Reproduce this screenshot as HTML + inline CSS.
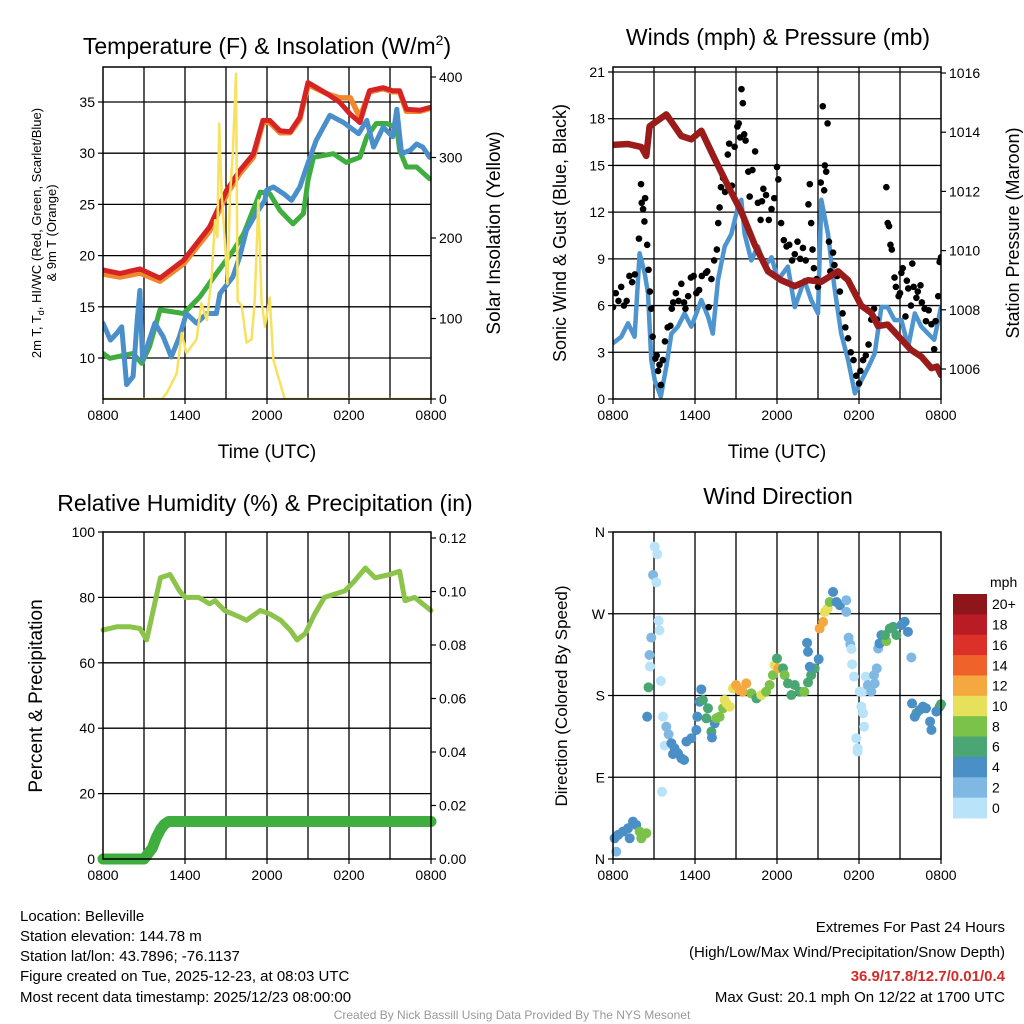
<!DOCTYPE html>
<html><head><meta charset="utf-8">
<style>
html,body{margin:0;padding:0;background:#fff;}
svg{display:block;font-family:"Liberation Sans",sans-serif;}
</style></head>
<body>
<svg id="c" width="1024" height="1024" viewBox="0 0 1024 1024" xmlns="http://www.w3.org/2000/svg">
<rect x="0" y="0" width="1024" height="1024" fill="#fff"/>
<g id="layer"></g>
<text x="267" y="54" font-size="23" text-anchor="middle">Temperature (F) &amp; Insolation (W/m<tspan font-size="14" dy="-9">2</tspan><tspan dy="9">)</tspan></text>
<text x="778" y="45" font-size="23" text-anchor="middle">Winds (mph) &amp; Pressure (mb)</text>
<text x="265" y="511" font-size="23" text-anchor="middle">Relative Humidity (%) &amp; Precipitation (in)</text>
<text x="778" y="504" font-size="23" text-anchor="middle">Wind Direction</text>
<text x="267" y="458" font-size="19" text-anchor="middle">Time (UTC)</text>
<text x="777" y="458" font-size="19" text-anchor="middle">Time (UTC)</text>
<text transform="translate(41,233) rotate(-90)" font-size="13" text-anchor="middle">2m T, T<tspan font-size="9" dy="3">d</tspan><tspan dy="-3">, HI/WC (Red, Green, Scarlet/Blue)</tspan></text>
<text transform="translate(56,233) rotate(-90)" font-size="13" text-anchor="middle">&amp; 9m T (Orange)</text>
<text transform="translate(500,233) rotate(-90)" font-size="19" text-anchor="middle">Solar Insolation (Yellow)</text>
<text transform="translate(566,233) rotate(-90)" font-size="18" text-anchor="middle">Sonic Wind &amp; Gust (Blue, Black)</text>
<text transform="translate(1019,233) rotate(-90)" font-size="18" text-anchor="middle">Station Pressure (Maroon)</text>
<text transform="translate(42,696) rotate(-90)" font-size="19" text-anchor="middle">Percent &amp; Precipitation</text>
<text transform="translate(567,696) rotate(-90)" font-size="17" text-anchor="middle">Direction (Colored By Speed)</text>
<text x="990" y="587" font-size="14">mph</text>
<g font-size="15">
<text x="20" y="921">Location: Belleville</text>
<text x="20" y="941">Station elevation: 144.78 m</text>
<text x="20" y="961">Station lat/lon: 43.7896; -76.1137</text>
<text x="20" y="981">Figure created on Tue, 2025-12-23, at 08:03 UTC</text>
<text x="20" y="1002">Most recent data timestamp: 2025/12/23 08:00:00</text>
</g>
<g font-size="15" text-anchor="end">
<text x="1005" y="932">Extremes For Past 24 Hours</text>
<text x="1005" y="957">(High/Low/Max Wind/Precipitation/Snow Depth)</text>
<text x="1005" y="981" fill="#d42a2a" font-weight="bold">36.9/17.8/12.7/0.01/0.4</text>
<text x="1005" y="1002">Max Gust: 20.1 mph On 12/22 at 1700 UTC</text>
</g>
<text x="512" y="1019" font-size="12" fill="#999" text-anchor="middle">Created By Nick Bassill Using Data Provided By The NYS Mesonet</text>
</svg>
<script>
// ---------- data ----------
const xTickLabels = ["0800","1400","2000","0200","0800"];
const tRed = [0,1.24,2.7,4.17,5.9,7.8,9.05,10,11,11.7,12.2,12.95,13.7,14.4,15,16.4,17.3,18.1,18.8,19.5,20.5,21.2,21.7,22.2,23.2,24];
const vRed = [18.6,18.25,18.7,17.8,19.55,22.8,26.4,28.3,29.9,33.2,33.2,32.2,32.1,33.5,36.9,35.8,35,33.8,33,36.1,36.4,36.1,36.1,34.3,34.2,34.5];
const tOrange = [0,1.24,2.7,4.17,5.9,7.8,9.05,10,11,11.7,12.2,12.95,13.7,14.4,15,16.4,17.3,18.1,18.8,19.5,20.5,21.2,21.7,22.2,23.2,24];
const vOrange = [18.2,17.9,18.3,17.5,19.2,22.4,26.0,28.0,29.6,33.0,33.0,32.0,32.0,33.3,36.7,35.8,35.4,35.4,33.5,36.0,36.3,36.0,36.0,34.1,34.1,34.4];
const tGreen = [0,0.5,2.2,2.83,3.4,4.17,5.9,7.1,8.3,9.54,10.3,11.5,12.2,12.95,13.9,14.66,15,15.4,16.85,17.8,18.8,19.3,20,20.75,21.5,21.7,22.2,22.95,23.9];
const vGreen = [10.45,9.97,10.45,9.48,11.1,14.7,14.35,16,18.25,20.5,22.15,26.2,26.05,24.4,23.1,24.1,27.35,29.6,29.95,29.1,29.6,31.6,32.9,32.9,32.5,30.3,28.65,28.65,27.5];
const tBlue = [0,0.54,1,1.37,1.73,2.2,2.5,2.7,2.9,3.8,4.4,5,5.6,6.1,6.85,7.6,8.3,8.56,9.5,10,10.5,11.2,11.85,11.97,12.46,13.2,13.8,14.4,14.9,15.6,16.6,17.6,18.7,19.3,19.8,20.5,21.2,21.5,21.85,22.5,22.95,23.4,23.9];
const vBlue = [13.4,11.75,12.4,13.05,7.4,8.2,13.7,16.6,9.8,13.4,12.1,10.1,12.1,14.35,13.4,14.35,14.35,16.3,17.9,19.9,22.5,24.1,25.4,26.4,26.7,26.05,25.4,26.7,28.65,31.25,33.7,33.0,31.9,33.2,30.6,32.55,31.6,34.3,29.95,30.3,30.9,30.6,29.6];
const tSolar = [0,4.3,4.65,5.4,5.76,6.1,6.85,7.2,7.6,7.95,8.2,8.37,8.5,8.68,8.9,9.1,9.3,9.5,9.73,9.85,10.15,10.5,10.87,11.1,11.37,11.6,11.85,12.2,12.46,12.95,13.3,24];
const vSolar = [0,0,7,32,82,57,74,119,98,152,222,201,342,255,201,143,255,305,404,122,116,70,74,122,247,122,90,126,49,20,0,0];

const tPres = [0,1.1,2.07,2.44,2.68,3.9,5,5.73,6.46,7.44,8.4,9.4,10.37,11.34,12.3,13.3,14.27,15.24,16.46,17.2,18.17,18.9,19.4,20.1,21.1,21.8,22.56,23.3,23.7,24];
const vPres = [1013.57,1013.6,1013.5,1013.2,1014.2,1014.6,1013.87,1013.76,1014.05,1013.1,1012.2,1011.3,1010.2,1009.3,1009.0,1008.8,1009.0,1008.95,1009.3,1009.0,1008.14,1007.9,1007.45,1007.5,1007.0,1006.65,1006.42,1006.03,1006.08,1005.8];
const tWind = [0,0.61,1.1,1.58,1.95,2.32,2.56,2.8,3.05,3.5,3.9,4.27,4.75,5.24,5.73,6.1,6.46,6.95,7.3,7.68,8.17,8.66,9.15,9.39,9.63,10.12,10.61,11.1,11.6,12.07,12.8,13.3,14,14.5,15,15.24,15.73,16.2,16.7,17.2,17.7,18.2,18.7,19.15,19.64,20.1,20.6,21.1,21.6,22.08,22.56,23.05,23.5,24];
const vWind = [3.58,4,4.86,4,9.36,8.07,6.8,2.5,1.22,0.15,2.08,4.2,4.65,5.5,4.65,5.5,6.36,5.3,4.2,7.64,9.8,10.6,12.35,12.8,10.6,8.9,9.8,8.5,9.1,7.64,8.5,5.9,7.64,6.36,5.5,12.8,10.6,7.2,4.2,2.5,0.36,1.22,2.08,2.93,5.9,5.9,5.07,5.07,3.36,5.5,4.65,4.2,3.8,5.9];
const tGust = [0,0.2,0.4,0.6,0.8,1,1.2,1.4,1.6,1.9,2.05,2.1,2.2,2.3,2.35,2.5,2.6,2.7,2.8,2.9,3.1,3.2,3.3,3.4,3.5,3.65,3.8,4,4.2,4.3,4.4,4.6,4.8,5,5.2,5.3,5.5,5.7,5.9,6.1,6.3,6.5,6.8,6.9,7,7.2,7.4,7.6,7.7,7.8,7.9,8.05,8.2,8.4,8.5,8.7,8.9,9.1,9.2,9.3,9.4,9.5,9.6,9.7,9.9,10,10.2,10.4,10.6,10.8,10.9,11,11.2,11.4,11.6,11.8,12,12.1,12.3,12.5,12.7,12.9,13.1,13.3,13.5,13.7,13.9,14.1,14.3,14.4,14.5,14.6,14.7,14.9,15,15.2,15.35,15.45,15.5,15.6,15.7,15.8,15.9,16.1,16.2,16.4,16.6,16.8,17,17.2,17.4,17.6,17.8,18,18.1,18.3,18.5,18.7,18.9,19.1,19.3,20,20.1,20.2,20.3,20.4,20.6,20.7,20.9,21,21.1,21.2,21.4,21.5,21.6,21.8,21.9,22,22.2,22.3,22.5,22.6,22.8,22.9,23.1,23.3,23.5,23.6,23.8,23.9,24];
const vGust = [5.9,6.8,6.3,7.2,6,6.3,7.9,7.5,8,10.3,13.8,12.6,12.2,11.4,12.9,9.9,8.3,6.9,5.8,4,2.6,2.8,1.8,2.2,0.9,2.5,3.7,4.6,4.7,5.8,6.2,6.8,6.3,7.4,6.2,5.8,6.6,7.8,7.9,6.8,7,7.9,8.1,8.2,5.9,7.7,8.9,9.6,11.3,12.3,13.6,14.2,13.3,15.7,16.4,13.7,16.2,17.5,17.7,16.8,19.9,19,17,16.6,14.6,13,14.7,15.9,12.6,11.5,12.7,13.5,13.1,11.5,12.2,12.9,14.9,14.1,11.3,10.2,9.8,9.9,8.9,9.3,10.1,9,9.7,8.9,12.5,13.8,11.3,9.6,8.4,7.7,7.2,13.9,18.8,13.4,15,14.6,17.7,10.1,8.2,9.4,8.6,7.9,6.9,5.5,4.6,3.9,3,2.5,1.5,1,1.8,2.5,2.8,3.5,5.1,5.8,5.1,13.6,11.3,11.1,9.9,9.6,7.8,7.2,6.6,6.8,8.1,8.4,5.3,7.6,7.1,6,8.7,7.2,6.5,6.9,7.3,6.2,5.8,5,5.7,4.8,3.2,5,6.6,8.8,9.1];

const tRH = [0,1,2,2.7,3.2,4.2,4.9,5.6,6,7,7.8,8.2,8.9,10,10.5,11.5,12.2,13,13.7,14.2,14.8,15.5,16.2,17.7,18.4,19.2,19.9,21,21.7,22.1,22.8,24];
const vRH = [70,71,71,70.5,67,86,87,82,80,80,78,79,76,74,73,76,75,73,70,67,69,75,80,82,85,89,86,87,88,79,80,76];
const tPrecip = [0,3,3.3,3.6,3.9,4.2,4.5,4.8,24];
const vPrecip = [0,0,0.002,0.004,0.008,0.011,0.013,0.014,0.014];

const tDir = [0.12,0.37,0.73,1.1,1.46,1.7,1.22,1.95,2.2,2.44,2.07,0.24,2.5,2.6,2.67,2.7,2.8,3.05,3.24,2.93,3.17,3.34,3.4,3.5,3.59,3.66,3.78,3.9,4.07,4.27,4.5,4.75,5,5.2,4.39,5.37,5.73,6.1,6.17,6.34,6.46,6.58,6.95,6.83,7.2,7.24,7.44,7.56,7.8,8.05,8.3,8.54,8.17,8.78,9,9.27,9.5,9.75,10.12,10.5,10.85,11.2,11.46,11.7,11.83,12,12.1,12.44,12.56,12.8,13.05,13.3,13.66,14,14.27,14.5,14.76,14.4,14.27,14.2,15.05,15.12,15.37,15.5,15.7,15.86,16.1,16.35,16.6,17.07,17.07,17.24,17.36,17.44,17.5,17.64,18.05,18.3,18.17,18.3,18.37,17.8,17.9,17.9,18.5,18.65,18.9,19.15,19.1,19.3,19.4,19.5,19.64,20,19.9,20.25,20.5,20.73,21.1,21.34,21.58,21.83,21.88,22.2,22.44,22.68,22.9,23.2,23.3,23.66,23.9,24,22.08];
const vDir = [22.8,26.5,30.2,33.8,41.1,37.5,22.8,30.2,26.5,28.4,22.8,8.1,156.7,189,224.6,211.9,243.7,343.9,335.5,312.7,304.6,262.4,251.8,196,74,156.7,124.8,145.7,137.3,127.4,121.9,116.4,110.9,109,115.5,129.2,132.9,142,156.7,173.2,186.8,175,165.9,154.9,140.2,133.6,149.4,154.9,156.7,165.9,171.4,167.7,175,187.8,191.5,186,184.1,193.3,182.3,176.8,180.5,184.1,191.5,202.5,213.5,220.8,209.8,209.8,202.5,193.3,180.5,191.5,184.1,184.1,194.4,202.5,209.8,211.6,228.1,238,220,253.7,261,272,275.7,283,294,283,279.4,284.9,272,243.7,236.3,231.2,214.3,200.8,184.3,184.3,167.8,160.5,145.7,132.9,121.9,118.2,200.8,191.5,184.3,193.3,202.5,209.8,231.8,237.3,246.5,239.9,246.5,253.7,255.6,246.5,257.5,261.2,250.1,221.9,171.3,160.5,164.1,167.7,165.9,151.3,142.1,162.3,167.7,170.3,156.7];
const vSpd = [4,4,4,4,4,4,4,8,8,8,8,2,4,6,2,1,2,0,0,2,0,0,0,0,0,0,0,2,2,4,4,4,4,4,4,4,4,4,4,4,4,6,6,6,6,4,4,8,8,8,10,10,10,10,12,12,12,12,8,6,10,8,8,8,10,6,12,6,8,6,6,6,6,8,6,6,6,4,4,4,4,12,12,10,10,8,4,4,4,2,2,2,2,0,0,0,0,0,0,0,0,0,0,0,0,2,2,2,2,2,2,4,4,8,6,6,6,6,4,4,4,2,4,6,4,4,4,4,4,4,4,6,4];
const cbLabels = ["20+","18","16","14","12","10","8","6","4","2","0"];
const cbColors = ["#8e161b","#b91c24","#dc3128","#ef622a","#f5a840","#e6e05a","#7bc24a","#4aa673","#4a8fc6","#7fb9e3","#b8e3f8"];

// ---------- drawing ----------
const NS = "http://www.w3.org/2000/svg";
const root = document.getElementById('layer');
function mk(tag, attrs, parent){
  const e = document.createElementNS(NS, tag);
  for (const k in attrs) e.setAttribute(k, attrs[k]);
  (parent||root).appendChild(e);
  return e;
}
function linear(d0,d1,r0,r1){ return v => r0 + (v-d0)*(r1-r0)/(d1-d0); }
function pathD(ts, vs, sx, sy){
  return ts.map((t,i)=>(i?'L':'M')+sx(t).toFixed(1)+' '+sy(vs[i]).toFixed(1)).join(' ');
}

function frame(px, name, yTicks, yLabels, yFn, rTicks, rLabels, rFn, rx){
  const g = mk('g', {});
  
  
  const sx = linear(0,24,px.x0,px.x1);
  for (let h=3; h<24; h+=3){
    const l = mk('line',{x1:sx(h),x2:sx(h),y1:px.y0,y2:px.y1,stroke:'#000','stroke-width':1.3},g);
    
    
  }
  yTicks.forEach((v,i)=>{
    const y = yFn(v);
    if (y>px.y0+1 && y<px.y1-1){
      const l = mk('line',{x1:px.x0,x2:px.x1,y1:y,y2:y,stroke:'#000','stroke-width':1.3},g);
      
      
    }
    mk('line',{x1:px.x0-5,x2:px.x0,y1:y,y2:y,stroke:'#000','stroke-width':1.2},g);
    const t = mk('text',{x:px.x0-8,y:y+5,'font-size':14,'text-anchor':'end'},g);
    t.textContent = yLabels[i];
    
    
  });
  if (rTicks){
    rTicks.forEach((v,i)=>{
      const y = rFn(v);
      mk('line',{x1:px.x1,x2:px.x1+5,y1:y,y2:y,stroke:'#000','stroke-width':1.2},g);
      const t = mk('text',{x:px.x1+rx,y:y+5,'font-size':14,'text-anchor':'start'},g);
      t.textContent = rLabels[i];
      
      
    });
  }
  xTickLabels.forEach((lab,i)=>{
    const x = sx(i*6);
    mk('line',{x1:x,x2:x,y1:px.y1,y2:px.y1+5,stroke:'#000','stroke-width':1.2},g);
    const t = mk('text',{x:x,y:px.y1+21,'font-size':14,'text-anchor':'middle'},g);
    t.textContent = lab;
    
    
  });
  return {g, sx};
}
function border(px, g){
  mk('rect',{x:px.x0,y:px.y0,width:px.x1-px.x0,height:px.y1-px.y0,fill:'none',stroke:'#000','stroke-width':1.5},g);
}
function series(d, color, w, g, name){
  const p = mk('path',{d:d,fill:'none',stroke:color,'stroke-width':w,'stroke-linejoin':'round','stroke-linecap':'round'},g);
  
  
}

// Panel 1
{
  const px = {x0:103,x1:431,y0:67,y1:399};
  const sy = linear(10,35,358,102);
  const sr = linear(0,400,399,77);
  const f = frame(px,'temperature-panel',[10,15,20,25,30,35],['10','15','20','25','30','35'],sy,[0,100,200,300,400],['0','100','200','300','400'],sr,8);
  const clip = mk('clipPath',{id:'cp1'}); mk('rect',{x:px.x0,y:px.y0,width:px.x1-px.x0,height:px.y1-px.y0},clip);
  const g = mk('g',{'clip-path':'url(#cp1)'},f.g);
  series(pathD(tOrange,vOrange,f.sx,sy),'#f0892e',5.5,g,'9m-temp-line');
  series(pathD(tRed,vRed,f.sx,sy),'#d62424',5,g,'2m-temp-line');
  series(pathD(tGreen,vGreen,f.sx,sy),'#3fae3f',5,g,'dewpoint-line');
  series(pathD(tBlue,vBlue,f.sx,sy),'#4a8fc9',5,g,'hi-wc-line');
  series(pathD(tSolar,vSolar,f.sx,sr),'#f8e060',2.5,g,'solar-line');
  border(px,f.g);
}
// Panel 2
{
  const px = {x0:613,x1:941,y0:67,y1:399};
  const sy = linear(0,21,399,72);
  const sp = linear(1006,1016,369,73);
  const f = frame(px,'wind-panel',[0,3,6,9,12,15,18,21],['0','3','6','9','12','15','18','21'],sy,[1006,1008,1010,1012,1014,1016],['1006','1008','1010','1012','1014','1016'],sp,8);
  const clip = mk('clipPath',{id:'cp2'}); mk('rect',{x:px.x0,y:px.y0,width:px.x1-px.x0,height:px.y1-px.y0},clip);
  const g = mk('g',{'clip-path':'url(#cp2)'},f.g);
  series(pathD(tWind,vWind,f.sx,sy),'#4e95d0',4.5,g,'sonic-wind-line');
  tGust.forEach((t,i)=>{
    const c = mk('circle',{cx:f.sx(t),cy:sy(vGust[i]),r:3.3,fill:'#000'},g);
    
    
  });
  series(pathD(tPres,vPres,f.sx,sp),'#9b1b1b',6.5,g,'pressure-line');
  border(px,f.g);
}
// Panel 3
{
  const px = {x0:103,x1:431,y0:532,y1:859};
  const sy = linear(0,100,859,532);
  const sr = linear(0,0.12,859,538);
  const f = frame(px,'humidity-panel',[0,20,40,60,80,100],['0','20','40','60','80','100'],sy,[0,0.02,0.04,0.06,0.08,0.10,0.12],['0.00','0.02','0.04','0.06','0.08','0.10','0.12'],sr,8);
  const clip = mk('clipPath',{id:'cp3'}); mk('rect',{x:px.x0-8,y:px.y0,width:px.x1-px.x0+16,height:px.y1-px.y0+8},clip);
  const g = mk('g',{'clip-path':'url(#cp3)'},f.g);
  series(pathD(tRH,vRH,f.sx,sy),'#8cc34a',5,g,'rh-line');
  series(pathD(tPrecip,vPrecip,f.sx,sr),'#3fae3f',11,g,'precip-line');
  border(px,f.g);
}
// Panel 4
{
  const px = {x0:613,x1:941,y0:532,y1:859};
  const sy = linear(0,360,859,532);
  const f = frame(px,'direction-panel',[0,90,180,270,360],['N','E','S','W','N'],sy,null,null,null,0);
  const clip = mk('clipPath',{id:'cp4'}); mk('rect',{x:px.x0-6,y:px.y0,width:px.x1-px.x0+12,height:px.y1-px.y0+6},clip);
  const g = mk('g',{'clip-path':'url(#cp4)'},f.g);
  tDir.forEach((t,i)=>{
    const bin = Math.min(10, Math.floor(vSpd[i]/2));
    const c = mk('circle',{cx:f.sx(t),cy:sy(vDir[i]),r:5,fill:cbColors[10-bin]},g);
    
    
  });
  border(px,f.g);
  const cb = mk('g',{});
  
  
  const h = (818-594)/cbLabels.length;
  cbLabels.forEach((lab,i)=>{
    mk('rect',{x:953,y:594+i*h,width:34,height:h+0.5,fill:cbColors[i]},cb);
    const t = mk('text',{x:992,y:594+i*h+h/2+5,'font-size':14},cb);
    t.textContent = lab;
    
    
  });
}
</script>
</body></html>
